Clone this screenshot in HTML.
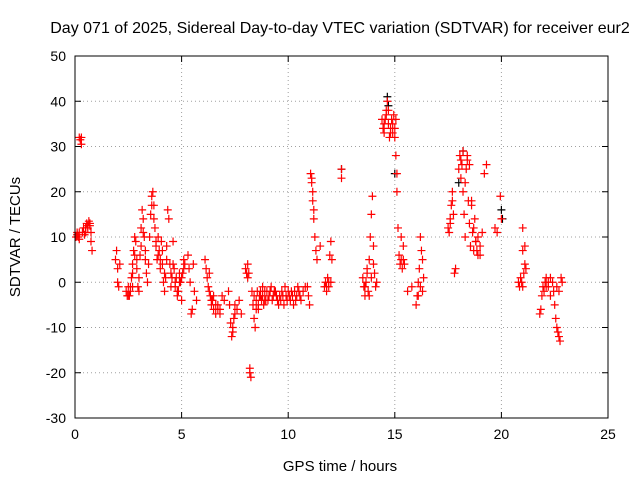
<!DOCTYPE html>
<html><head><meta charset="utf-8"><style>
body{margin:0;background:#fff;}
svg{display:block;font-family:"Liberation Sans",sans-serif;}
</style></head><body>
<svg id="chart" width="640" height="480">
<text x="340" y="33" font-size="16" text-anchor="middle">Day 071 of 2025, Sidereal Day-to-day VTEC variation (SDTVAR) for receiver eur2</text>
<text x="340" y="471" font-size="15" text-anchor="middle">GPS time / hours</text>
<text x="20" y="237" font-size="15" text-anchor="middle" transform="rotate(-90 20 237)">SDTVAR / TECUs</text>
<g id="grid"></g><g id="ticks"></g><g id="marks"></g>
<rect x="75" y="56" width="533" height="362" fill="none" stroke="#000"/>
</svg>
<script>
const xTicks=[0,5,10,15,20,25];
const yTicks=[-30,-20,-10,0,10,20,30,40,50];
const redX=[0.05,0.1,0.15,0.2,0.2,0.25,0.3,0.3,0.35,0.4,0.45,0.5,0.55,0.6,0.65,0.7,0.75,0.75,0.8,
1.9,1.95,2.0,2.0,2.05,2.1,
2.4,2.45,2.5,2.55,2.6,2.65,2.7,2.7,2.75,2.8,2.85,2.9,2.95,3.0,3.05,3.1,3.15,3.2,3.25,3.3,3.35,3.4,3.45,3.5,3.55,3.6,3.65,3.7,3.75,3.8,3.85,3.9,3.95,4.0,4.05,4.1,4.15,4.2,4.25,4.3,4.35,4.4,4.45,4.5,4.55,4.6,4.65,4.7,4.75,4.8,4.85,4.9,4.95,5.0,5.05,5.1,5.15,
5.3,5.35,5.4,5.45,5.5,5.55,5.6,5.7,
6.1,6.15,6.2,6.25,6.3,6.35,6.4,6.45,6.5,6.6,6.7,6.8,6.9,7.0,
7.2,7.25,7.3,7.35,7.4,7.45,7.5,7.6,7.7,7.8,
8.0,8.05,8.1,8.15,8.2,8.25,8.2,8.3,8.35,8.4,8.45,8.5,8.55,8.6,8.7,8.8,8.9,9.0,9.1,9.2,9.3,9.4,9.5,9.6,9.7,9.8,9.9,10.0,10.1,10.2,10.3,10.4,10.5,10.6,10.7,10.8,
10.9,10.95,11.0,11.05,11.1,11.15,11.2,11.25,11.3,11.35,11.5,11.7,11.75,11.8,11.85,11.9,11.95,12.0,12.05,12.0,
12.5,12.5,
13.5,13.55,13.6,13.65,13.7,13.75,13.8,13.85,13.9,13.95,14.0,14.05,14.1,14.15,
14.4,14.45,14.5,14.55,14.6,14.65,14.7,14.75,14.8,14.85,14.9,14.95,15.0,15.05,15.1,15.15,15.2,15.25,15.3,15.35,15.4,15.45,15.6,15.8,16.0,16.05,16.1,16.15,16.2,16.25,16.3,16.35,
17.5,17.55,17.6,17.65,17.7,17.75,17.8,17.85,18.0,18.05,18.1,18.15,18.2,18.25,18.3,18.35,18.4,18.45,18.5,18.55,18.6,18.65,18.7,18.75,18.8,18.85,18.9,19.0,19.2,19.3,19.7,19.8,19.95,20.0,
21.0,20.8,20.85,20.9,20.95,21.0,21.05,21.1,21.15,
21.8,21.85,21.9,21.95,22.0,22.05,22.1,22.2,22.3,22.4,22.45,22.5,22.55,22.6,22.65,22.7,22.75,22.8,22.85];
const redY=[10,11,10,9.5,32,31.5,32,30.5,11,12,10.5,12,13,12,13.5,12.5,11,9,7,
5,7,3,0,-1,4,
-2,-3,-1,-3,-2,1,4,-1,7,10,9,3,-1,1,6,12,16,14,10,5,2,0,4,10,15,19,20,17,12,8,5,10,7,3,9,4,0,-2,1,8,16,14,4,-1,1,9,3,-1,1,-3,-2,2,0,-4,2,5,4,
6,3,0,-7,-6,4,-2,-4,
5,3,1,-1,2,-3,-5,-4,-6,-7,-5,-6,-3,-4,
-2,-5,-9,-12,-11,-8,-5,-6,-4,-7,
3,2,4,2,-19,-21,-20,-2,-5,-8,-10,-4,-2,-6,-3,-1,-4,-2,-3,-1,-3,-2,-4,-3,-2,-5,-3,-2,-4,-3,-2,-3,-2,-4,-2,-1,
-1,-3,-5,24,22,18,14,10,7,5,8,-1,0,-2,1,-1,6,9,5,0,
25,23,
1,-1,-3,0,3,-2,5,10,15,19,8,2,-1,0,
36,34,33,36,38,40,35,32,34,36,33,37,34,28,20,12,6,4,10,3,5,4,-2,-1,-5,-3,0,3,10,7,-2,1,
12,11,14,17,20,15,2,3,25,28,27,26,20,15,10,25,28,18,13,8,17,11,7,14,9,7,6,6,24,26,12,11,19,14,
12,0,-1,1,0,-1,2,4,3,
-7,-6,-3,-1,-2,0,-1,0,1,0,-2,-5,-8,-10,-11,-12,-13,1,0];
/* extra dense observations */
const extraX=[0.1,0.2,0.5,0.6,0.7,2.5,2.6,2.7,2.8,2.9,3.0,3.1,3.2,3.3,3.6,3.7,3.8,3.9,4.0,4.1,4.2,4.3,4.5,4.6,4.7,4.8,4.9,5.0,5.1,6.3,6.4,6.5,6.6,6.7,6.8,7.4,7.5,8.1,8.4,8.5,8.6,8.65,8.7,8.75,8.8,8.85,8.9,8.95,9.05,9.15,9.25,9.35,9.45,9.55,9.65,9.75,9.85,9.95,10.05,10.15,10.25,10.35,10.45,10.55,11.1,11.15,11.2,11.8,11.9,13.6,13.7,13.8,13.9,14.0,14.5,14.6,14.7,14.8,14.9,15.0,15.05,15.1,15.3,15.4,16.1,16.2,16.3,17.6,17.7,18.1,18.2,18.3,18.4,18.5,18.6,18.7,18.8,18.9,19.0,19.1,21.0,21.1,22.1,22.2,22.3,22.6,22.7];
const extraY=[10.5,11,11,12.5,13,-3,-1,2,6,5,-2,8,11,7,17,14,9,6,5,7,2,5,2,4,0,-2,0,1,3,-2,-4,-3,-5,-6,-7,-10,-7,1,-3,-6,-5,-3,-2,-4,-3,-5,-2,-4,-4,-2,-4,-2,-3,-5,-4,-3,-1,-4,-3,-2,-5,-4,-1,-3,23,20,16,-1,0,-1,2,-3,1,4,35,37,38,33,35,32,36,24,5,8,-3,-1,5,13,18,23,29,22,27,26,18,12,9,10,8,11,7,8,1,-1,-3,-1,-2,-9,-11];
const blackX=[14.65,14.7,18.2,18.0,20.0,20.05,15.0,12.5];
const blackY=[41,39,29,22,16,14,24,25];
const NS="http://www.w3.org/2000/svg";
const L=75,R=608,T=56,B=418;
function sx(v){return L+(v-0)/(25-0)*(R-L);}
function sy(v){return B-(v+30)/80*(B-T);}
function mk(tag,at,parent){const e=document.createElementNS(NS,tag);for(const k in at)e.setAttribute(k,at[k]);parent.appendChild(e);return e;}
const grid=document.getElementById('grid'),ticks=document.getElementById('ticks'),marks=document.getElementById('marks');
xTicks.forEach(t=>{const x=sx(t);
 if(t>0&&t<25){const g=mk('line',{x1:x,x2:x,y1:T,y2:B,stroke:'#a0a0a0','stroke-dasharray':'1,3'},grid);
 
 }
 mk('line',{x1:x,x2:x,y1:B,y2:B-6,stroke:'#000'},ticks);
 mk('line',{x1:x,x2:x,y1:T,y2:T+6,stroke:'#000'},ticks);
 const tx=mk('text',{x:x,y:B+21,'font-size':14,'text-anchor':'middle'},ticks);tx.textContent=t;
 
 });
yTicks.forEach(t=>{const y=sy(t);
 if(t>-30&&t<50){const g=mk('line',{x1:L,x2:R,y1:y,y2:y,stroke:'#a0a0a0','stroke-dasharray':'1,3'},grid);
 
 }
 mk('line',{x1:L,x2:L+6,y1:y,y2:y,stroke:'#000'},ticks);
 mk('line',{x1:R,x2:R-6,y1:y,y2:y,stroke:'#000'},ticks);
 const tx=mk('text',{x:L-9,y:y+5,'font-size':14,'text-anchor':'end'},ticks);tx.textContent=t;
 
 });
function plus(xs,ys,col,name){xs.forEach((v,i)=>{const x=sx(v),y=sy(ys[i]);
 const p=mk('path',{d:`M${x-4} ${y}H${x+4}M${x} ${y-4}V${y+4}`,stroke:col,'stroke-width':1.2,fill:'none'},marks);
 
 });}
plus(blackX,blackY,'#000','black-point');
plus(redX,redY,'#ff0000','sdtvar-point');
plus(extraX,extraY,'#ff0000','sdtvar-point');
</script>
</body></html>
